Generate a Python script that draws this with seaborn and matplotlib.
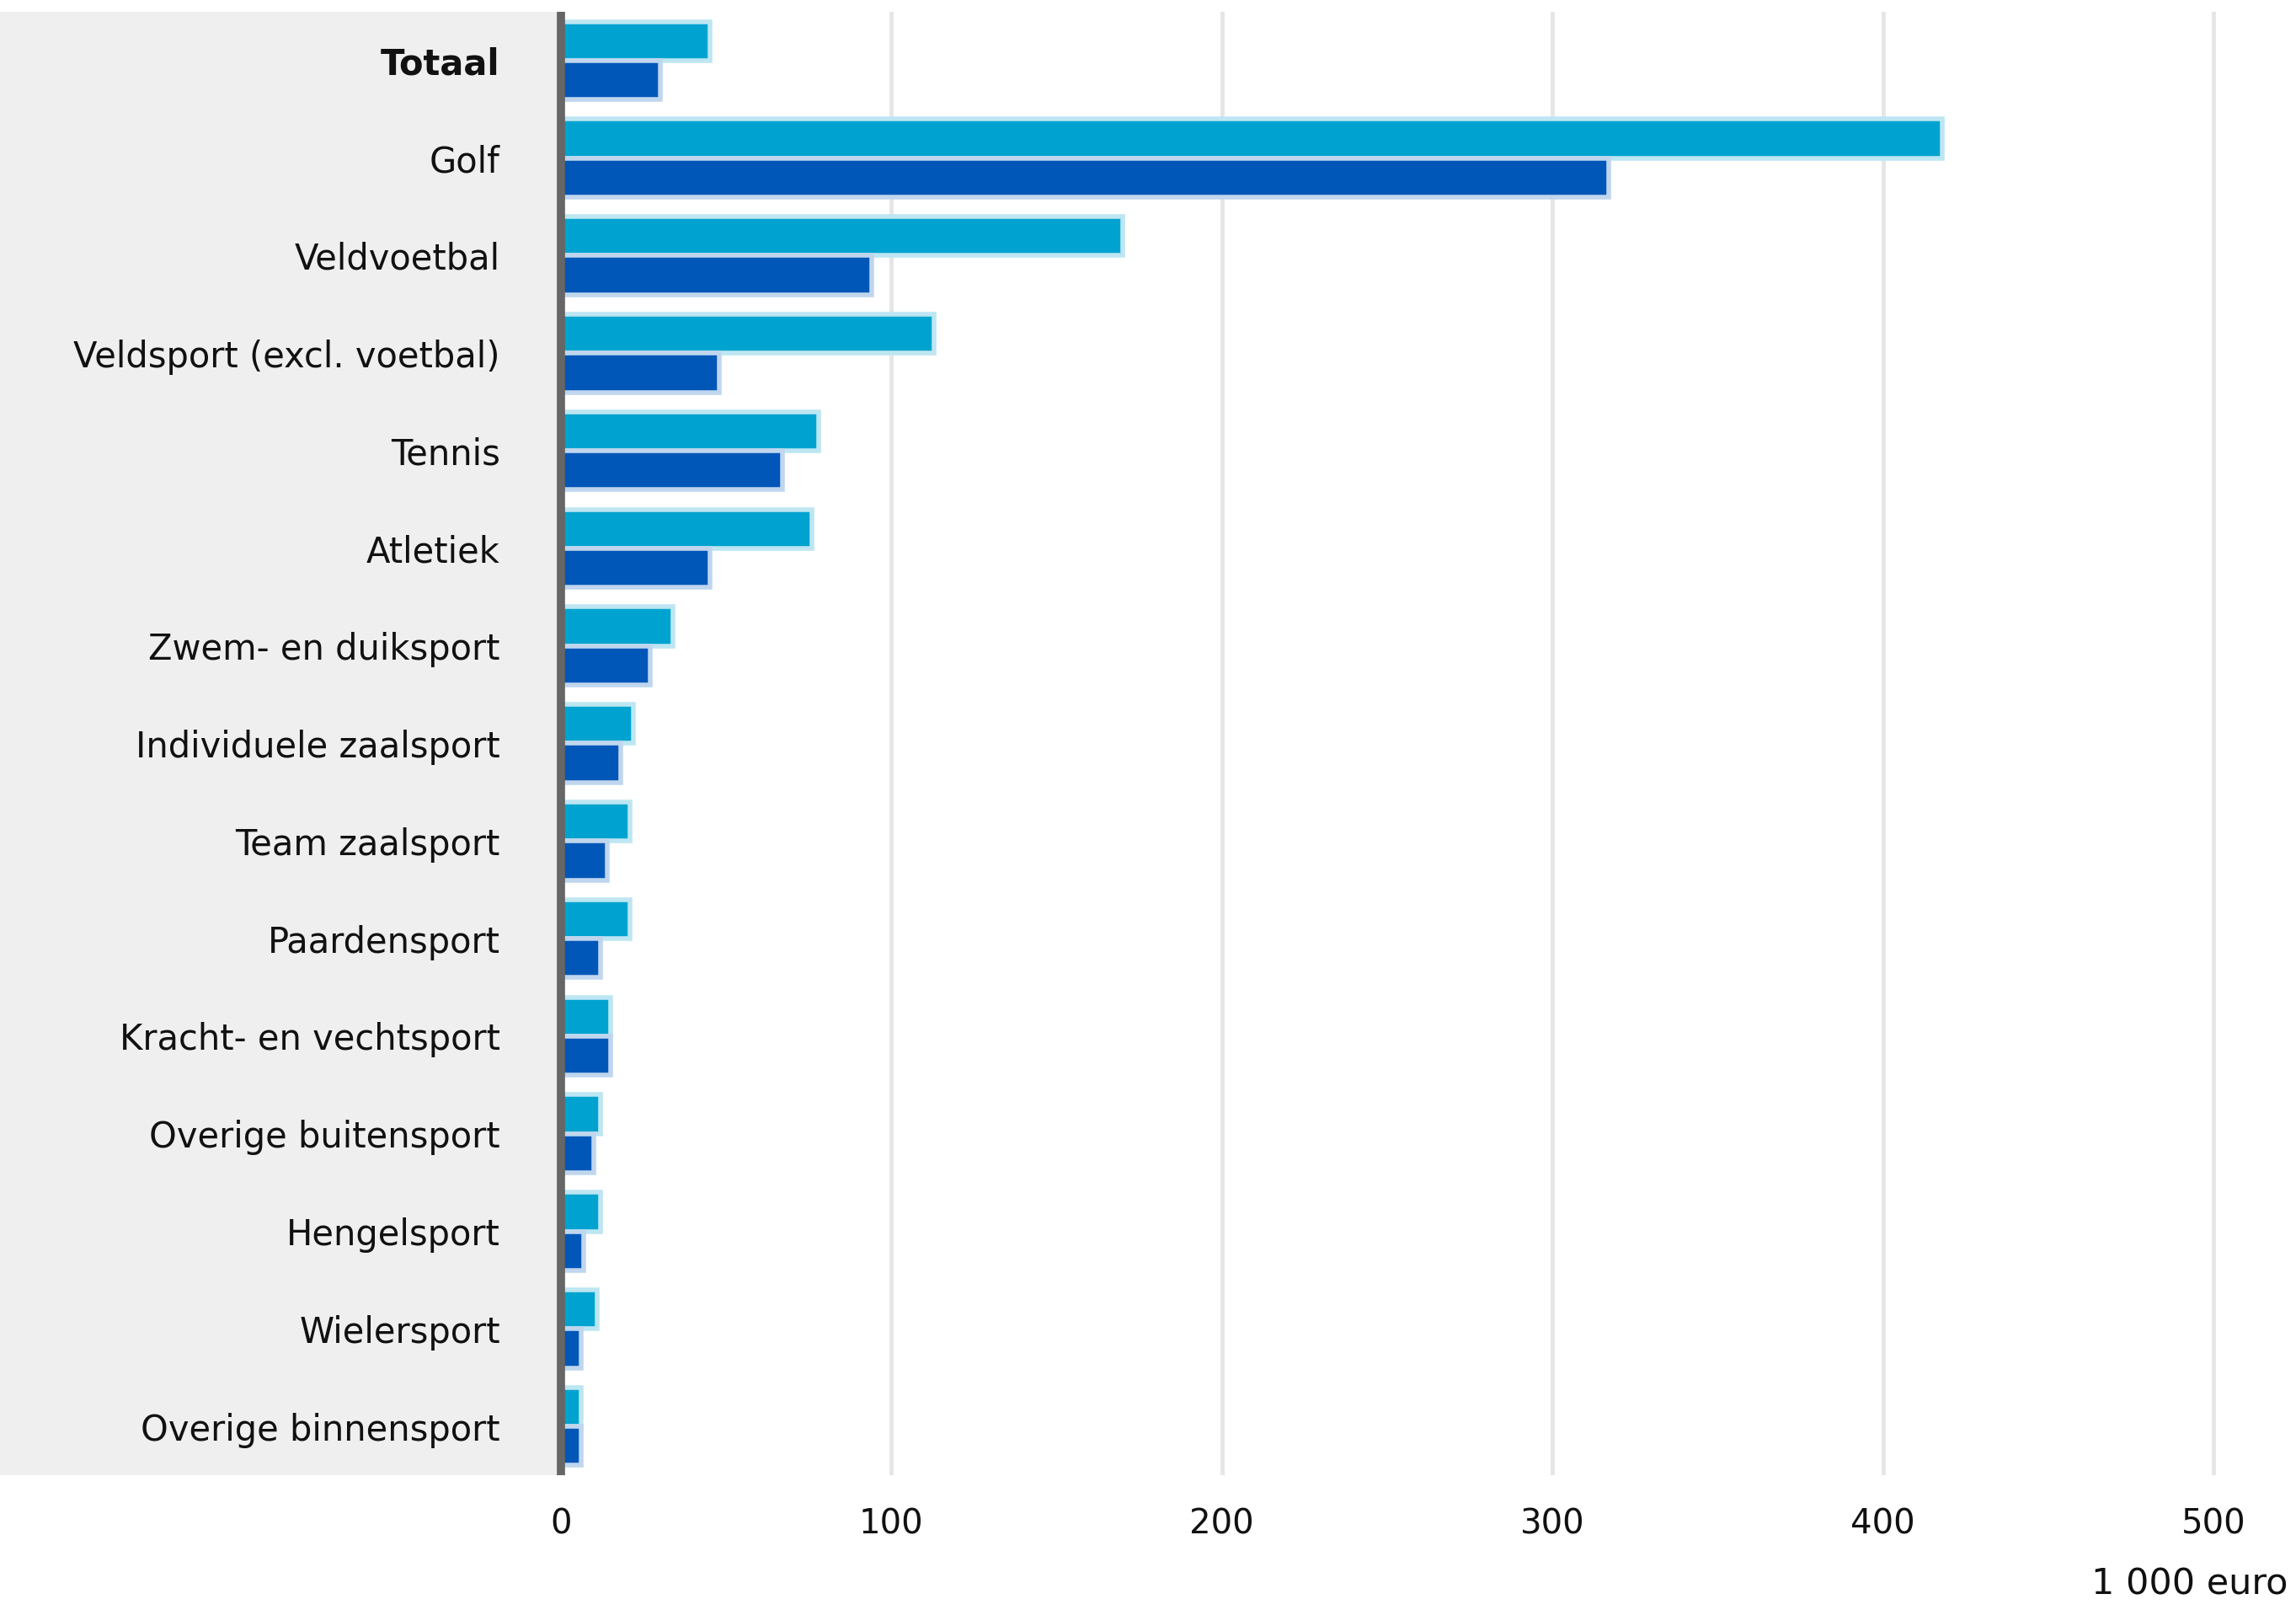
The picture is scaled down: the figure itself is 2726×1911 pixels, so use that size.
import matplotlib
matplotlib.use("Agg")
import matplotlib.pyplot as plt
import pandas as pd
import seaborn as sns
from matplotlib.patches import Rectangle

categories = ["Totaal", "Golf", "Veldvoetbal", "Veldsport (excl. voetbal)", "Tennis",
              "Atletiek", "Zwem- en duiksport", "Individuele zaalsport", "Team zaalsport",
              "Paardensport", "Kracht- en vechtsport", "Overige buitensport",
              "Hengelsport", "Wielersport", "Overige binnensport"]
series_a = [45, 418, 170, 113, 78, 76, 34, 22, 21, 21, 15, 12, 12, 11, 6]
series_b = [30, 317, 94, 48, 67, 45, 27, 18, 14, 12, 15, 10, 7, 6, 6]
series_names = ["reeks 1", "reeks 2"]
ticks = [0, 100, 200, 300, 400, 500]

df = pd.DataFrame({
    "categorie": categories * 2,
    "waarde": series_a + series_b,
    "reeks": [series_names[0]] * len(categories) + [series_names[1]] * len(categories),
})

sns.set_style("white")
plt.rcParams["font.family"] = ["DejaVu Sans"]

fig = plt.figure(figsize=(27.26, 19.11), dpi=100)
ax = fig.add_axes([0.2443, 0.0837, 0.7557, 0.909])

# grijs vlak achter de labels
fig.patches.append(Rectangle((0, 0.0837), 0.2443, 0.909, transform=fig.transFigure,
                             facecolor="#efefef", edgecolor="none", zorder=-1))

colors = {"reeks 1": "#00a3cf", "reeks 2": "#0057b8"}
edges = ["#bde6f2", "#c0d6ee"]
sns.barplot(data=df, x="waarde", y="categorie", hue="reeks", order=categories,
            hue_order=series_names, palette=colors, saturation=1, width=0.8, ax=ax,
            legend=False, linewidth=4, zorder=3)
for cont, ec in zip(ax.containers, edges):
    for bar in cont:
        bar.set_edgecolor(ec)

ax.set_xlim(0, 525)
ax.set_xticks(ticks)
ax.set_xticklabels([str(t) for t in ticks])
ax.grid(axis="x", color="#e6e6e6", linewidth=3.5, zorder=0)
ax.set_axisbelow(True)
for s in ["top", "right", "bottom"]:
    ax.spines[s].set_visible(False)
ax.spines["left"].set_color("#666666")
ax.spines["left"].set_linewidth(7)
ax.spines["left"].set_capstyle("butt")
ax.spines["left"].set_zorder(5)

ax.tick_params(axis="x", length=0, pad=28, labelsize=29, colors="#111111")
ax.tick_params(axis="y", length=0, pad=52, labelsize=30, colors="#111111")
ax.set_xlabel("")
ax.set_ylabel("")
ax.get_yticklabels()[0].set_fontweight("bold")

fig.text(0.9965, 0.005, "1 000 euro", ha="right", va="bottom", fontsize=31, color="#111111")

fig.savefig("out.png", dpi=100)
